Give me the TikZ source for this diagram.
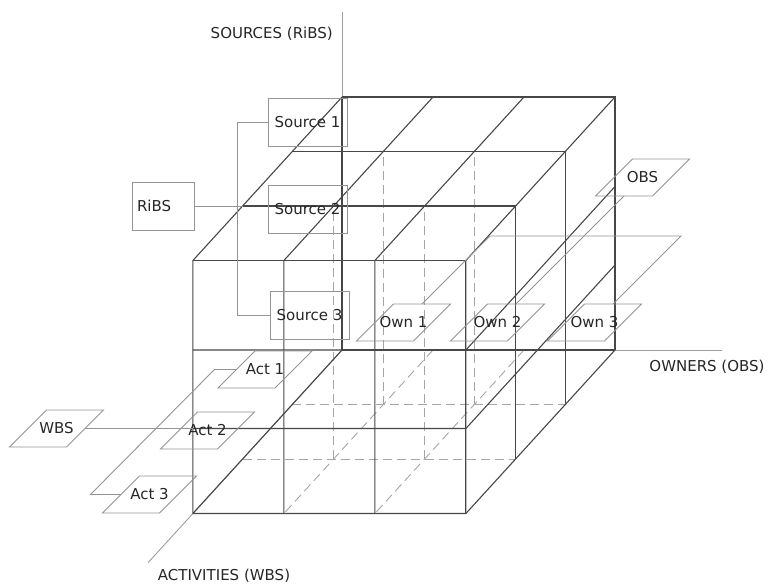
\documentclass[tikz,border=0pt]{standalone}
\usepackage{fontspec}
\setmainfont{DejaVu Sans}
\usetikzlibrary{calc}

\begin{document}
\begin{tikzpicture}[
    x=1pt, y=-1pt,
    font=\fontsize{15}{18}\selectfont,
    cube/.style={line width=1.1pt, black!72},
    hidden/.style={line width=0.9pt, black!35, dash pattern=on 9pt off 5pt},
    axis/.style={line width=0.9pt, black!38},
    link/.style={line width=0.9pt, black!42},
    box/.style={draw=black!42, line width=0.9pt, minimum width=79pt, minimum height=48pt, inner sep=0pt, text=black!85},
    lbl/.style={inner sep=0pt, text=black!85},
    plg/.pic={
        \draw[link] (-47,18.5) -- (10,18.5) -- (47,-18.5) -- (-10,-18.5) -- cycle;
        \node[lbl] (-txt) {#1};
        \coordinate (-w) at (-28.5,0);
        \coordinate (-e) at (28.5,0);
        \coordinate (-n) at (18.5,-18.5);
        \coordinate (-s) at (-18.5,18.5);
    }
]
    \useasboundingbox (0,0) rectangle (771,585);

    % --- the cube: owners along x, sources up, activities towards us ---
    \begin{scope}[shift={(342,350)}, x={(91pt,0pt)}, y={(0pt,1pt)}, z={(-49.7pt,-54.5pt)}]
        % hidden grid lines
        \foreach \i in {1,2} {
            \draw[hidden] (\i,0,0) -- (\i,0,3);
            \foreach \k in {1,2} \draw[hidden] (\i,0,\k) -- (\i,253,\k);
        }
        \foreach \k in {1,2} \draw[hidden] (0,0,\k) -- (3,0,\k);

        % axes
        \draw[axis] (0,0,0) -- (0,338,0);
        \draw[axis] (0,0,0) -- (4.18,0,0);
        \draw[axis] (0,0,0) -- (0,0,3.9);
        \draw[cube] (0,253,0) -- (0,0,0) -- (3,0,0);
        \draw[cube] (0,0,0) -- (0,0,3);

        % front, top and right faces
        \foreach \i in {0,...,3} \draw[cube] (\i,0,3) -- (\i,253,3) -- (\i,253,0);
        \foreach \k in {0,...,3} \draw[cube] (0,253,\k) -- (3,253,\k) -- (3,0,\k);
        \foreach \h in {0,85,163.5} \draw[cube] (0,\h,3) -- (3,\h,3) -- (3,\h,0);

        \coordinate (tz2) at (0,253,2);
        \coordinate (fy1) at (0,85,3);
    \end{scope}

    % --- axis labels ---
    \node[lbl, anchor=east] (srclbl) at (333,34) {SOURCES (RiBS)};
    \node[lbl] (ownlbl) at (707,367) {OWNERS (OBS)};
    \node[lbl] (actlbl) at (224,576) {ACTIVITIES (WBS)};

    % --- sources ---
    \node[box] (src1) at (307.5,122) {Source 1};
    \node[box] (src2) at (307.5,209) {Source 2};
    \node[box] (src3) at (309.5,315.5) {Source 3};
    \node[box, minimum width=62pt, text width=52pt, align=left] (ribs) at (163,206) {RiBS};
    \draw[link] (src1.west) -- ++(-30,0) |- (src3.west);
    \draw[link] (ribs.east) -- (tz2);

    % --- activities ---
    \pic (act1) at (265,369.5) {plg=Act 1};
    \pic (act2) at (207.5,430.5) {plg=Act 2};
    \pic (act3) at (149.5,494.5) {plg=Act 3};
    \pic (wbs) at (56.5,428.5) {plg=WBS};
    \draw[link] (act1-w) -- ++(-22,0) -- ++(-124,125) -- (act3-w);
    \draw[link] (wbs-e) -- (fy1);

    % --- owners ---
    \pic (own1) at (403.5,322.5) {plg=Own 1};
    \pic (own2) at (497.5,322.5) {plg=Own 2};
    \pic (own3) at (594.5,322.5) {plg=Own 3};
    \pic (obs) at (642.5,177.5) {plg=OBS};
    \draw[link] (own1-n) -- ++(68,-68) -- ($(own3-n)+(68,-68)$) -- (own3-n);
    \draw[link] (obs-s) -- (own2-n);
\end{tikzpicture}
\end{document}
